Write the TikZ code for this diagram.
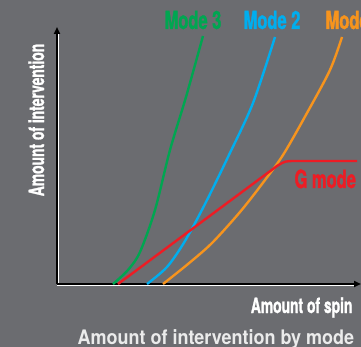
\documentclass[tikz,border=0pt]{standalone}
\usepackage{fontspec}
\setmainfont{TeX Gyre Heros}[FakeStretch=0.76]
\newfontfamily\condfont{TeX Gyre Heros}[FakeStretch=0.66,FakeBold=1.2]
\newfontfamily\titlefont{TeX Gyre Heros}[FakeStretch=0.9]
\usetikzlibrary{arrows.meta}

\definecolor{bggray}{HTML}{6B6C70}
\definecolor{modegreen}{HTML}{00A651}
\definecolor{modeblue}{HTML}{00AEEF}
\definecolor{modeorange}{HTML}{F7941D}
\definecolor{modered}{HTML}{ED1C24}

\begin{document}
\begin{tikzpicture}[x=1pt,y=-1pt,font=\bfseries]
    \def\lw{2.4pt}

    \tikzset{
        axis/.style={black, line width=1.8pt, -{Triangle[length=7pt,width=6pt]}},
        curve/.style={line width=\lw, smooth},
        modelabel/.style={anchor=base, font=\condfont\fontsize{25}{25}\selectfont\bfseries},
        axislabel/.style={white, font=\condfont\fontsize{21}{21}\selectfont\bfseries}
    }

    % background
    \fill[bggray] (0,0) rectangle (361,347);
    \useasboundingbox (0,0) rectangle (361,347);

    % axes
    \coordinate (origin) at (57,284);
    \coordinate (ytop)   at (57,27);
    \coordinate (xend)   at (361,284);
    \draw[white, line width=1pt] ([xshift=1.6pt]origin) -- ([xshift=1.6pt,yshift=-4pt]ytop);
    \draw[white, line width=1pt] ([yshift=-1.6pt]origin) -- ([xshift=-4pt,yshift=-1.6pt]xend);
    \draw[axis] (origin) -- (ytop);
    \draw[axis] (origin) -- (xend);

    % curves
    \draw[curve, modegreen] plot coordinates {(113,284) (128,270) (140,252)
        (155,210) (170,150) (186,97) (203,36)};
    \draw[curve, modeblue] plot coordinates {(147,284) (167,267) (185,241)
        (205,204) (228,157) (253,103) (275,37)};
    \draw[curve, modeorange] plot coordinates {(163,284) (188,264) (212,243)
        (240,212) (262,184) (283,155) (307,113) (330,70) (342,37)};
    \draw[modered, line width=\lw] (118,284) -- (277,166)
        .. controls (285,161) .. (297,161) -- (357,161);

    % labels
    \node[modelabel, modegreen]  (mode3) at (193,29) {Mode 3};
    \node[modelabel, modeblue]   (mode2) at (272,29) {Mode 2};
    \node[modelabel, modeorange, anchor=base west] (mode1) at (322,29) {Mode 1};
    \node[modelabel, modered, anchor=base west] (gmode) at (291,188) {G mode};

    \node[axislabel, anchor=base east] (xlabel) at (356,313) {Amount of spin};
    \node[axislabel, rotate=90, anchor=base] (ylabel) at (44,120) {Amount of intervention};

    \node[white!92!black, anchor=base west, font=\titlefont\fontsize{20}{20}\selectfont\bfseries]
        (title) at (74,344) {Amount of intervention by mode};
\end{tikzpicture}
\end{document}
